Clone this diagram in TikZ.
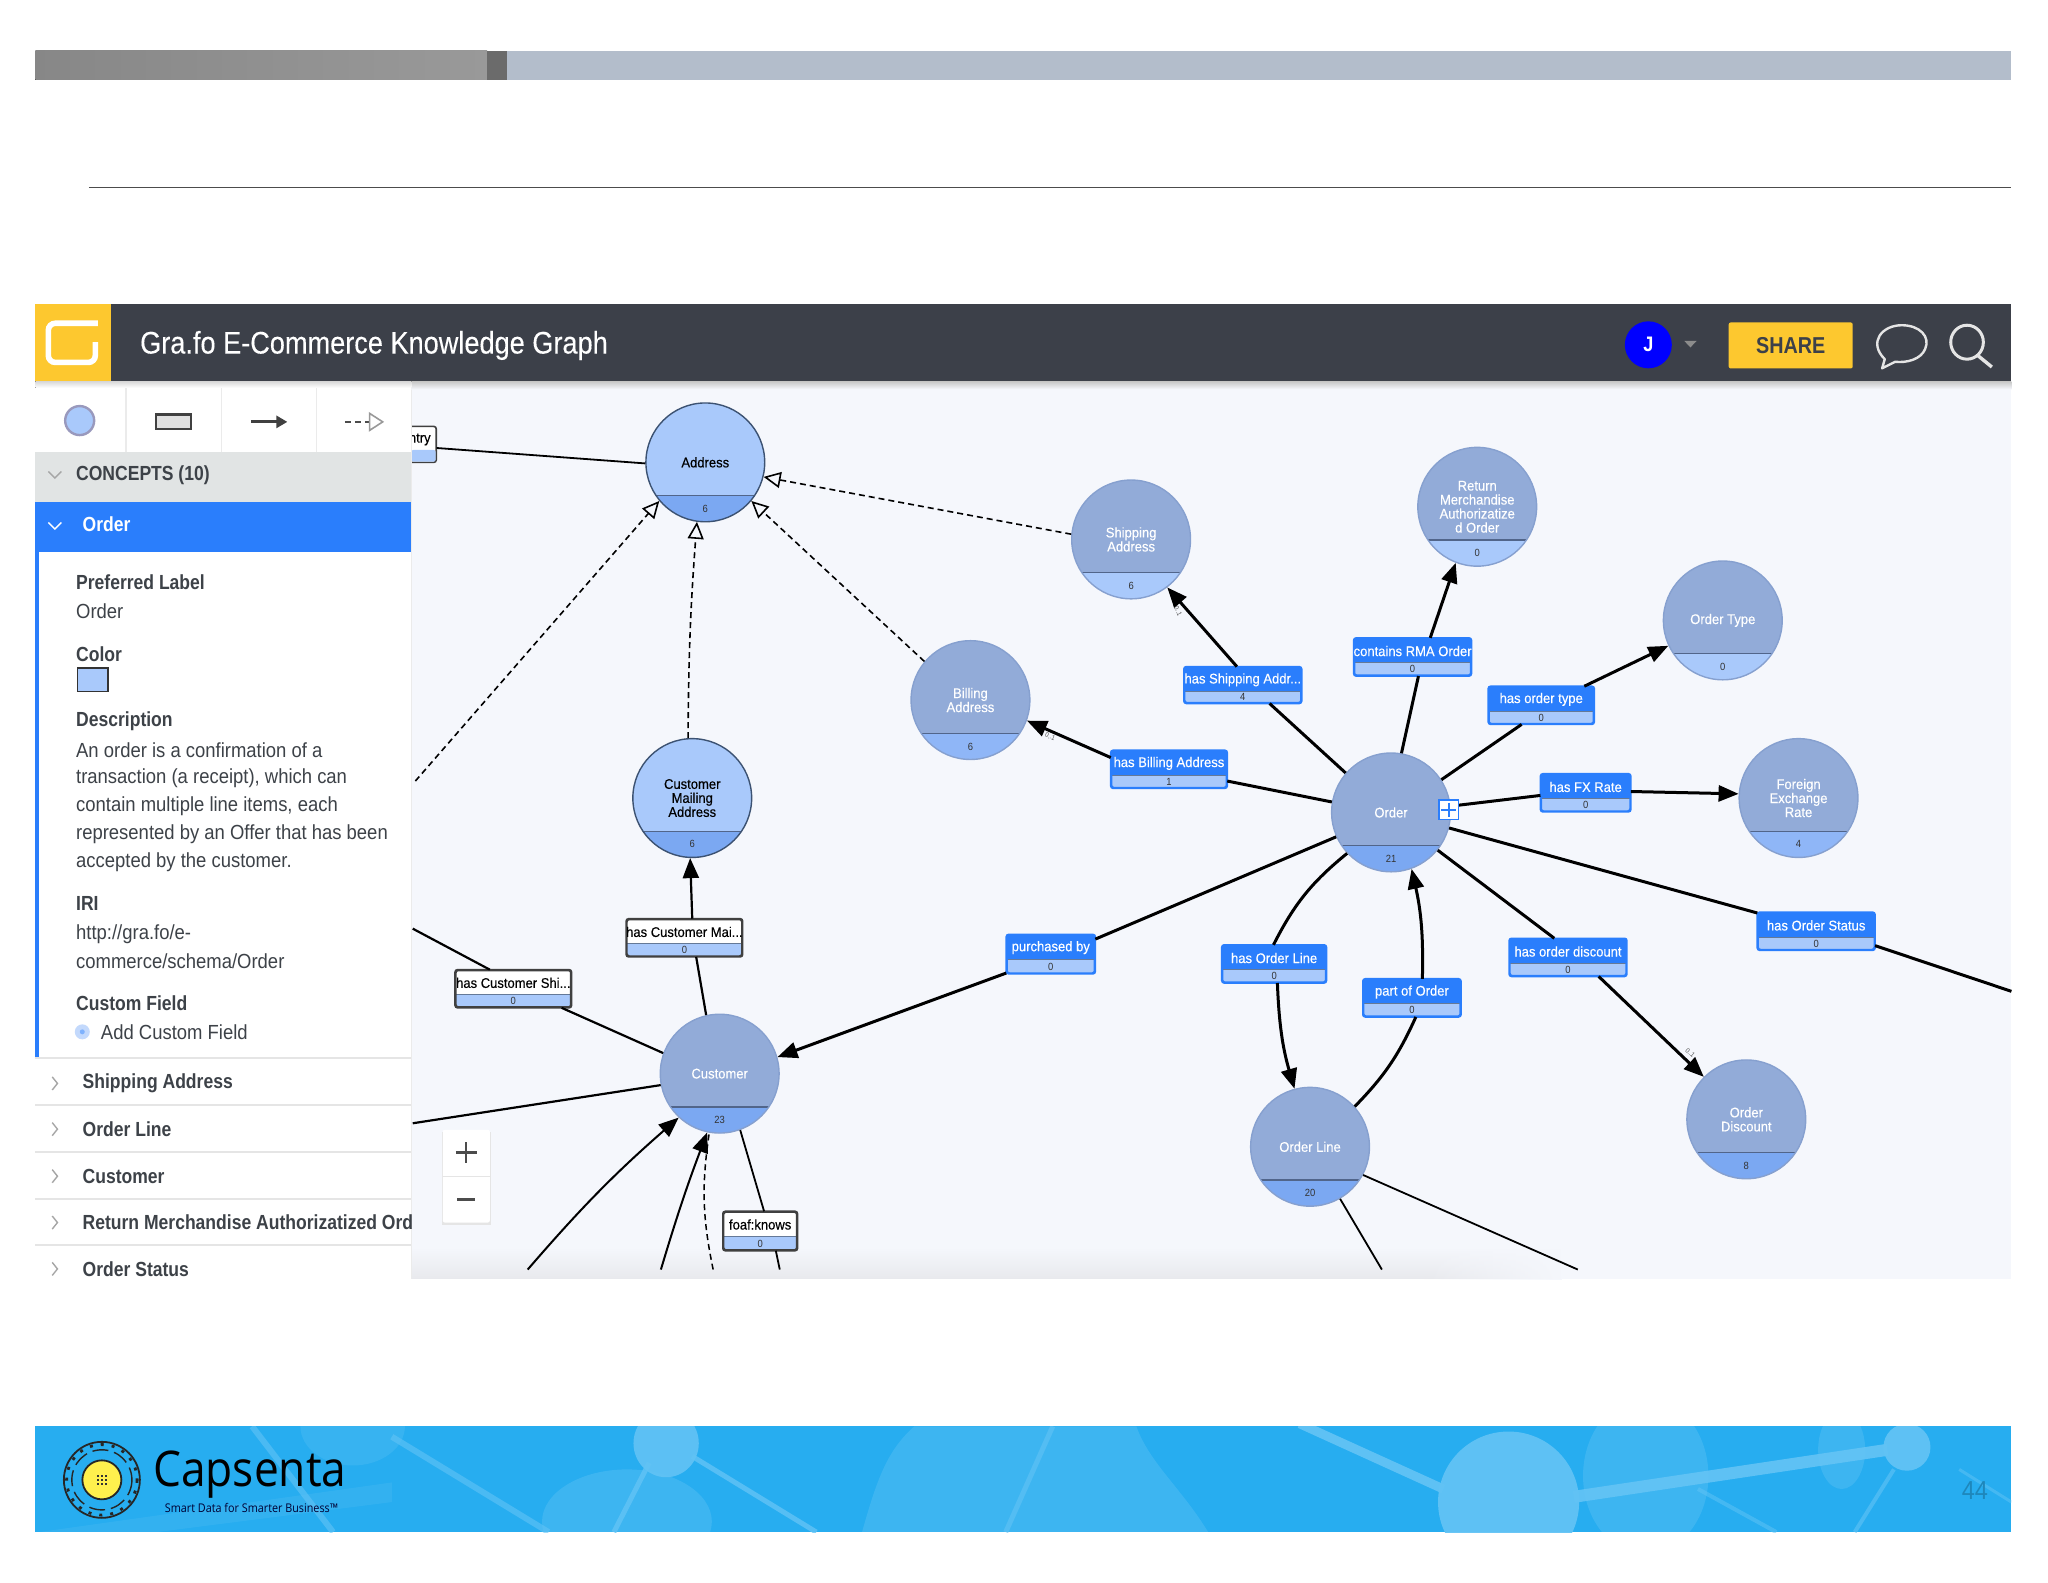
\documentclass[tikz,border=0pt]{standalone}
\usepackage{fontspec}
\setmainfont{Liberation Sans}
\newfontfamily\rb[FakeStretch=0.905]{Liberation Sans}
\newfontfamily\rbm[FakeStretch=0.86]{Liberation Sans Bold}
\newfontfamily\rbl[FakeStretch=0.93,FakeBold=0.3]{Liberation Sans}
\newfontfamily\rbt[FakeStretch=0.87,FakeBold=0.2]{Liberation Sans}
\newfontfamily\logofont[FakeStretch=0.9]{Open Sans}
\usetikzlibrary{arrows.meta,calc,shapes.geometric,fadings}
\definecolor{hdr}{HTML}{3C4049}
\definecolor{yel}{HTML}{FDC82F}
\definecolor{blu}{HTML}{2A7EFC}
\definecolor{canv}{HTML}{F5F7FC}
\definecolor{pale}{HTML}{A9C9FB}
\definecolor{mid}{HTML}{7BA8F2}
\definecolor{mid2}{HTML}{8FB6F7}
\definecolor{grayb}{HTML}{92ABD8}
\definecolor{ink}{HTML}{3D4248}
\definecolor{sea}{HTML}{27ADF0}
\definecolor{seal}{HTML}{62C3F5}
\definecolor{barb}{HTML}{B3BDCB}
\definecolor{band}{HTML}{E1E4E4}
\definecolor{lemon}{HTML}{FFF04D}
\definecolor{shd}{HTML}{E8E9ED}
\definecolor{circwhite}{HTML}{86A0CF}
\definecolor{circblack}{HTML}{3C5272}
\definecolor{chord}{HTML}{51658A}
\newcommand{\fs}[1]{\fontsize{#1}{#1}\selectfont}
\tikzset{
  x=0.65306pt,y=-0.65306pt,
  sidehead/.style={anchor=west,text=ink,font=\rbm\fs{10.2},inner sep=0},
  sidetext/.style={anchor=west,text=ink,font=\rb\fs{10.2},inner sep=0},
  rowtext/.style={anchor=west,text=ink,font=\rbm\fs{10.2},inner sep=0},
  chev/.style={draw=gray!70,line width=0.7pt,fill=none},
  rowsep/.style={draw=black!10,line width=0.9pt},
  conc/.style={circle,minimum size=59.4pt,inner sep=0,align=center,font=\rbl\fs{7},
    draw=#1,line width=0.7pt},
  cnt/.style={font=\rb\fs{5.2},inner sep=0,text=black!80},
  elab/.style={rectangle,rounded corners=1.2pt,minimum width=#1*0.65306pt,inner sep=0,line width=0.8pt},
  elabblue/.style={elab=#1,draw=blu,fill=blu},
  elabwhite/.style={elab=#1,draw=black!75,fill=white},
  rel/.style={line width=1.5pt,-{Triangle[length=10pt,width=8pt]}},
  relp/.style={line width=1.5pt},
  thinrel/.style={line width=0.9pt},
  isa/.style={line width=0.8pt,dash pattern=on 3pt off 2pt,-{Triangle[open,fill=canv,length=8.5pt,width=8pt]}},
  card/.style={font=\rb\fs{3.4},inner sep=0,text=black!70},
}
% name,x,y,text,count,top,bottom,text colour
\newcommand{\concept}[8]{%
  \node[conc=circ#8,fill=#6,text=#8,
    path picture={\fill[#7] ($(path picture bounding box.center)+(-60,25.5)$) rectangle ($(path picture bounding box.center)+(60,60)$);
      \draw[chord,line width=0.7pt] ($(path picture bounding box.center)+(-60,25.5)$) -- ($(path picture bounding box.center)+(60,25.5)$);}]
    (#1) at (#2,#3) {#4};
  \node[cnt] (#1n) at (#2,#3+35.5) {#5};
}
% name,x1,y1,x2,y2,style,text colour,text,count
\newcommand{\elabel}[9]{%
  \node[#6=(#4-#2),text=#7,minimum height={(#5-#3)*0.65306pt},
    path picture={\fill[pale] ({-(#4-#2)/2-2},{-(#5-#3)/2+18.5}) rectangle ({(#4-#2)/2+2},{(#5-#3)/2+2});
      \draw[black!40!pale,line width=0.6pt] ({-(#4-#2)/2-2},{-(#5-#3)/2+18.5}) -- ({(#4-#2)/2+2},{-(#5-#3)/2+18.5});}]
    (#1) at ({(#2+#4)/2},{(#3+#5)/2}) {};
  \draw[#6=1,fill=none] (#1.south west) rectangle (#1.north east);
  \node[text=#7,font=\rbl\fs{7},inner sep=0] (#1t) at ({(#2+#4)/2},#3+9.5) {#8};
  \node[cnt] (#1c) at ({(#2+#4)/2},#5-4.5) {#9};
}
\begin{document}
\begin{tikzpicture}
\useasboundingbox (0,0) rectangle (1568,1211.25);
\fill[white] (0,0) rectangle (1568,1211.25);
% title bar and rule
\fill[left color=black!47,right color=black!40] (27,39) rectangle (373,61);
\fill[black!58] (373,39) rectangle (388,61);
\fill[barb] (388,39) rectangle (1540,61);
\draw[black!70,line width=0.6pt] (68,143.5) -- (1540,143.5);
% canvas
\fill[canv] (315,292) rectangle (1540,979);
\fill[top color=canv,bottom color=shd] (315,955) rectangle (1195,979);
\fill[canv,path fading=west] (1090,954) rectangle (1196,980);
% concepts
\concept{address}{540}{354}{Address}{6}{pale}{mid}{black}
\concept{shipping}{866}{413}{Shipping\\Address}{6}{grayb}{pale}{white}
\concept{rma}{1131}{388}{Return\\Merchandise\\Authorizatize\\d Order}{0}{grayb}{pale}{white}
\concept{otype}{1319}{475}{Order Type}{0}{grayb}{pale}{white}
\concept{billing}{743}{536}{Billing\\Address}{6}{grayb}{mid2}{white}
\concept{fx}{1377}{611}{Foreign\\Exchange\\Rate}{4}{grayb}{mid2}{white}
\concept{mailing}{530}{611}{Customer\\Mailing\\Address}{6}{pale}{mid}{black}
\concept{order}{1065}{622}{Order}{21}{grayb}{mid}{white}
\concept{customer}{551}{822}{Customer}{23}{grayb}{mid}{white}
\concept{oline}{1003}{878}{Order Line}{20}{grayb}{mid}{white}
\concept{discount}{1337}{857}{Order\\Discount}{8}{grayb}{mid}{white}
% edge labels
\elabel{lship}{907}{511}{996}{538}{elabblue}{white}{has Shipping Addr...}{4}
\elabel{lrma}{1037}{489}{1126}{517}{elabblue}{white}{contains RMA Order}{0}
\elabel{ltype}{1140}{526}{1220}{554}{elabblue}{white}{has order type}{0}
\elabel{lbill}{851}{575}{939}{603}{elabblue}{white}{has Billing Address}{1}
\elabel{lfx}{1180}{593}{1248}{621}{elabblue}{white}{has FX Rate}{0}
\elabel{lstat}{1346}{699}{1435}{727}{elabblue}{white}{has Order Status}{0}
\elabel{lpur}{771}{716}{838}{745}{elabblue}{white}{purchased by}{0}
\elabel{lline}{936}{724}{1015}{752}{elabblue}{white}{has Order Line}{0}
\elabel{ldisc}{1156}{719}{1245}{747}{elabblue}{white}{has order discount}{0}
\elabel{lpart}{1044}{750}{1118}{778}{elabblue}{white}{part of Order}{0}
\elabel{lmail}{480}{704}{568}{732}{elabwhite}{black}{has Customer Mai...}{0}
\elabel{lshi}{349}{743}{437}{771}{elabwhite}{black}{has Customer Shi...}{0}
\elabel{lfoaf}{554}{928}{610}{957}{elabwhite}{black}{foaf:knows}{0}
% free ends
\coordinate (fntry) at (334,343);
\coordinate (fshi) at (316,711);
\coordinate (fleft) at (316,860);
\coordinate (fisa) at (318,598);
\coordinate (fstat) at (1540,759);
\coordinate (fb1) at (404,972);
\coordinate (fb2) at (506,972);
\coordinate (fb3) at (546,972);
\coordinate (ffoaf) at (597,972);
\coordinate (fol1) at (1208,972);
\coordinate (fol2) at (1058,972);
% relationship edges
\draw[relp] (order.139) -- (lship.south -| 972,538);
\draw[rel] (lship.north -| 947,511) -- (shipping.-53);
\draw[relp] (order.80) -- (lrma.south -| 1086,517);
\draw[rel] (lrma.north -| 1095,489) -- (rma.-111);
\draw[relp] (order.33) -- (ltype.south -| 1165,554);
\draw[rel] (ltype.north -| 1213,526) -- (otype.205);
\draw[relp] (order.6) -- (lfx.west |- 0,609);
\draw[rel] (lfx.east |- 0,606) -- (fx.176);
\draw[relp] (order.170) -- (lbill.east |- 0,598);
\draw[rel] (lbill.west |- 0,580) -- (billing.-20);
\draw[relp] (order.204) -- (lpur.east |- 0,719);
\draw[rel] (lpur.west |- 0,745) -- (customer.16);
\draw[relp] (order.-137) to[bend right=12] (lline.north -| 975,724);
\draw[rel] (lline.south -| 978,752) to[bend right=7] (oline.105);
\draw[relp] (oline.42) to[bend right=10] (lpart.south -| 1084,778);
\draw[rel] (lpart.north -| 1089,750) to[bend right=7] (order.-70);
\draw[relp] (order.-39) -- (ldisc.north -| 1190,719);
\draw[rel] (ldisc.south -| 1224,747) -- (discount.135);
\draw[relp] (order.-15) -- (lstat.west |- 0,699);
\draw[relp] (lstat.east |- 0,724) -- (fstat);
\draw[relp,line width=1.1pt] (customer.103) -- (lmail.south -| 533,732);
\draw[rel,line width=1.1pt] (lmail.north -| 530,704) -- (mailing.-92);
\draw[relp,line width=1.1pt] (customer.160) -- (lshi.south -| 430,771);
\draw[relp,line width=1.1pt] (lshi.north -| 375,743) -- (fshi);
\draw[relp,line width=1.1pt] (customer.-169) -- (fleft);
\draw[rel,line width=1pt] (fb1) to[bend left=4] (customer.-133);
\draw[rel,line width=1pt] (fb2) to[bend left=2] (customer.-102);
\draw[line width=0.75pt,dash pattern=on 3pt off 2pt] (fb3) to[bend left=10] (customer.-100);
\draw[line width=0.9pt] (customer.-70) -- (lfoaf.north -| 585,928);
\draw[line width=0.9pt] (lfoaf.south -| 594,957) -- (ffoaf);
\draw[thinrel] (oline.-28) -- (fol1);
\draw[thinrel] (oline.-60) -- (fol2);
% subclass edges
\draw[isa] (shipping.175) -- (address.-14);
\draw[isa] (billing.140) -- (address.-40);
\draw[isa] (mailing.94) to[bend left=2] (address.-98);
\draw[isa] (fisa) -- (address.-140);
% clipped label on the left
\node[rectangle,minimum width=12.4pt,minimum height=18.2pt,inner sep=0] (lntry) at (324.5,340) {};
\draw[black!75,line width=0.8pt,fill=white,rounded corners=1.2pt] (315,326.5) -- (334,326.5) -- (334,354) -- (315,354);
\fill[pale,rounded corners=1pt] (315,344.5) -- (333.5,344.5) -- (333.5,353.5) -- (315,353.5) -- cycle;
\node[font=\rbl\fs{7},inner sep=0,anchor=east] (lntryt) at (330,336.5) {ntry};
\draw[line width=0.9pt] (lntry.east |- fntry) -- (address.181);
% cardinalities (tiny)
\node[card,rotate=-65] (c1) at (902,468) {0..1};
\node[card,rotate=-22] (c2) at (804,564) {0..1};
\node[card,rotate=-42] (c3) at (1294,806) {0..1};
% plus on Order
\node[rectangle,draw=blu,fill=white,line width=0.8pt,minimum size=9.8pt,inner sep=0] (oplus) at (1109,620) {};
\draw[blu,line width=1pt] (1103.5,620) -- (1114.5,620) (1109,614.5) -- (1109,625.5);
% sidebar
\fill[white] (27,292) rectangle (315,979);
\draw[black!8,line width=0.6pt] (315,292) -- (315,979);
\foreach \x in {96.5,169.5,242.5} \draw[black!8,line width=0.7pt] (\x,297) -- (\x,346);
\node[circle,draw=black!65!blue!40,fill=pale,line width=1.2pt,minimum size=14.5pt,inner sep=0] (iconc) at (61,322) {};
\node[rectangle,draw=black!75,fill=black!12,line width=1.1pt,minimum width=17.5pt,minimum height=7.4pt,inner sep=0] (iconr) at (133,323) {};
\coordinate (ia1) at (192,323); \coordinate (ia2) at (220,323);
\draw[black!75,line width=1.4pt,-{Triangle[length=5.5pt,width=6pt]}] (ia1) -- (ia2);
\coordinate (id1) at (264,323); \coordinate (id2) at (283,323);
\draw[black!70,line width=1.3pt,dash pattern=on 3pt off 2pt] (id1) -- (id2);
\draw[black!40,line width=0.8pt,fill=white] (283,316.5) -- (293,323) -- (283,329.5) -- cycle;
\fill[band] (27,346) rectangle (315,384);
\fill[blu] (27,384) rectangle (315,423);
\fill[blu] (27,423) rectangle (29.5,810);
\draw[chev] (37,361) -- (42,366) -- (47,361);
\draw[white,line width=0.7pt] (37,400) -- (42,405) -- (47,400);
\node[rowtext,text=ink] (concepts) at (58,364) {CONCEPTS (10)};
\node[rowtext,text=white] (ordh) at (63,401.5) {Order};
\node[sidehead] (t1) at (58,445.5) {Preferred Label};
\node[sidetext] (t2) at (58,468) {Order};
\node[sidehead] (t3) at (58,500.5) {Color};
\node[rectangle,draw=black!80,fill=pale,line width=0.8pt,minimum width=15.2pt,minimum height=11.8pt,inner sep=0] (swatch) at (71,520.5) {};
\node[sidehead] (t4) at (58,552) {Description};
\node[sidetext] (d1) at (58,574.5) {An order is a confirmation of a};
\node[sidetext] (d2) at (58,595.5) {transaction (a receipt), which can};
\node[sidetext] (d3) at (58,617.5) {contain multiple line items, each};
\node[sidetext] (d4) at (58,638.5) {represented by an Offer that has been};
\node[sidetext] (d5) at (58,660.5) {accepted by the customer.};
\node[sidehead] (t5) at (58,691.5) {IRI};
\node[sidetext] (i1) at (58,715) {http://gra.fo/e-};
\node[sidetext] (i2) at (58,736) {commerce/schema/Order};
\node[sidehead] (t6) at (58,768) {Custom Field};
\node[circle,fill=pale!70,minimum size=7.5pt,inner sep=0] (addc) at (63,790) {};
\node[circle,fill=blu!60,minimum size=2.5pt,inner sep=0] (addd) at (63,790) {};
\node[sidetext] (t7) at (77,790.5) {Add Custom Field};
\foreach \y in {810,846,882,918,953} \draw[rowsep] (27,\y) -- (315,\y);
\foreach \y/\t/\n in {829.5/Shipping Address/r1,864.5/Order Line/r2,900.5/Customer/r3,936/Return Merchandise Authorizatized Ord/r4,971.5/Order Status/r5}{
  \node[rowtext] (\n) at (63,\y) {\t};
  \draw[chev,draw=black!35] (40,\y-5) -- (44,\y) -- (40,\y+5);
}
% zoom control
\fill[black!10] (338.5,866.5) rectangle (376,938);
\fill[white,rounded corners=1pt] (339,865) rectangle (375,936);
\draw[black!10,line width=0.6pt] (339,900.5) -- (375,900.5);
\draw[black!70,line width=1.2pt] (349,882.5) -- (365,882.5) (357,874.5) -- (357,890.5);
\draw[black!70,line width=1.2pt] (350,918.5) -- (364,918.5);
% header
\fill[top color=black!22,bottom color=canv] (315,292) rectangle (1540,298);
\fill[top color=black!15,bottom color=white] (27,292) rectangle (315,297);
\fill[hdr] (27,233) rectangle (1540,292);
\fill[yel] (27,233) rectangle (85,292);
\draw[white,line width=2.8pt,rounded corners=3.5pt] (75,247.5) -- (37,247.5) -- (37,277.5) -- (73,277.5) -- (73,262);
\node[anchor=west,text=white,font=\rbt\fs{15.6},inner sep=0] (title) at (107,264.5) {Gra.fo E-Commerce Knowledge Graph};
\node[circle,fill=blue,minimum size=23.5pt,inner sep=0,text=white,font=\rbm\fs{10.5}] (user) at (1262,264) {J};
\fill[black!45] (1289.5,261) -- (1299,261) -- (1294.2,266) -- cycle;
\node[rectangle,rounded corners=1pt,fill=yel,minimum width=62pt,minimum height=23pt,inner sep=0,text=hdr,font=\rbm\fs{11.5}] (share) at (1371,264.5) {SHARE};
\draw[white!90!black,line width=1.2pt,line join=round] (1443,275) .. controls (1430,262) and (1441,249) .. (1456,249) .. controls (1470,249) and (1478,258) .. (1474,267) .. controls (1471,275) and (1460,278) .. (1451,277) -- (1441,282) -- cycle;
\draw[white!90!black,line width=1.5pt] (1506,262) ellipse[x radius=12.5,y radius=13];
\draw[white!90!black,line width=1.7pt] (1514,272) -- (1525,281);
% footer
\fill[sea] (27,1092) rectangle (1540,1173);
\begin{scope}
\clip (27,1092) rectangle (1540,1173);
\fill[white,opacity=.08] (270,1092) ellipse[x radius=40,y radius=30];
\fill[white,opacity=.10] (480,1165) ellipse[x radius=65,y radius=40];
\fill[white,opacity=.10] (660,1173) .. controls (672,1130) and (680,1110) .. (700,1092) -- (870,1092) .. controls (880,1120) and (905,1140) .. (925,1173) -- cycle;
\fill[white,opacity=.10] (1260,1130) ellipse[x radius=48,y radius=60];
\fill[white,opacity=.10] (1410,1110) ellipse[x radius=18,y radius=30];
\fill[white,opacity=.06] (30,1173) -- (300,1135) -- (300,1150) -- (120,1173) -- cycle;
\draw[seal,opacity=.6,line width=3pt] (193,1092) -- (255,1173);
\draw[seal,opacity=.6,line width=3pt] (300,1100) -- (420,1173);
\draw[seal,opacity=.8,line width=2.5pt] (530,1115) -- (625,1173);
\draw[seal,opacity=.8,line width=2.5pt] (497,1120) -- (470,1173);
\draw[seal,opacity=.6,line width=2.5pt] (806,1092) -- (770,1173);
\draw[seal,opacity=.6,line width=2pt] (1450,1125) -- (1420,1173);
\draw[seal,opacity=.5,line width=1.5pt] (1500,1125) -- (1540,1150);
\draw[seal,opacity=.5,line width=2pt] (1300,1140) -- (1360,1173);
\fill[seal,opacity=.9] (510,1105) ellipse[x radius=25,y radius=26];
\fill[seal,opacity=.95] (1155,1150) ellipse[x radius=54,y radius=54];
\fill[seal,opacity=.95] (1460,1108) ellipse[x radius=18,y radius=18];
\draw[seal,opacity=.95,line width=4.5pt] (995,1090) -- (1105,1140);
\draw[seal,opacity=.95,line width=6pt] (1205,1146) -- (1445,1110);
\end{scope}
% logo
\node[circle,draw=black!85,line width=0.9pt,minimum size=38pt,inner sep=0] (lg1) at (78,1133) {};
\draw[black!85,line width=0.7pt,dash pattern=on 8pt off 3pt] (78,1133) circle[radius=23];
\draw[black!85,line width=1.4pt,dash pattern=on 1.5pt off 4pt] (78,1133) circle[radius=27];
\node[circle,draw=black!85,fill=lemon,line width=0.9pt,minimum size=19.5pt,inner sep=0] (lg2) at (78,1133) {};
\foreach \dx in {-3,0,3} \foreach \dy in {-3,0,3} \fill[black!80] (78+\dx-.8,1133+\dy-.8) rectangle (78+\dx+.8,1133+\dy+.8);
\node[anchor=west,inner sep=0,text=black,font=\logofont\fs{24.6}] (cap) at (117,1129) {Capsenta};
\node[anchor=west,inner sep=0,text=black!80!blue,font=\logofont\fs{6}] (tag) at (126,1154.5) {Smart Data for Smarter Business™};
\node[anchor=center,inner sep=0,text=black!22!sea,font=\rb\fs{13}] (pg) at (1512,1141) {44};
\end{tikzpicture}
\end{document}
